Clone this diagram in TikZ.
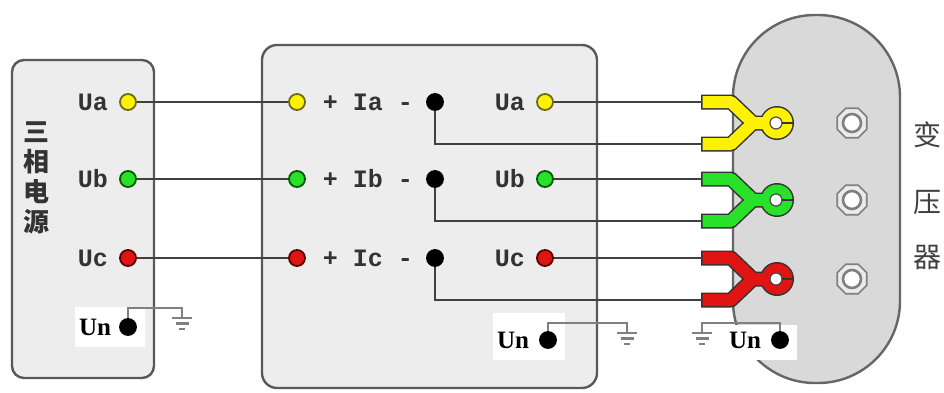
\documentclass[tikz,border=0pt]{standalone}
\usepackage{fontspec}
\newfontfamily\cjkfont{Noto Sans CJK SC}
\newfontfamily\lblfont{Liberation Mono}
\newfontfamily\unfont{Liberation Serif}
\usetikzlibrary{shapes.geometric}
\definecolor{pyellow}{RGB}{255,242,0}
\definecolor{pgreen}{RGB}{40,225,40}
\definecolor{pred}{RGB}{225,20,20}

\begin{document}
\begin{tikzpicture}[x=0.5pt, y=-0.5pt,
  panel/.style={draw=black!65, line width=1.2pt, fill=black!7},
  wire/.style={draw=black!75, line width=1pt},
  gwire/.style={draw=black!50, line width=1pt},
  term/.style={circle, inner sep=0pt, minimum size=8pt, line width=0.9pt},
  ya/.style={term, fill=pyellow, draw=olive!70!black},
  gb/.style={term, fill=pgreen, draw=green!35!black},
  rc/.style={term, fill=pred, draw=red!35!black},
  bk/.style={term, fill=black, draw=black},
  lbl/.style={font=\lblfont\bfseries\fontsize{12.5}{14}\selectfont, text=black!80, inner sep=0pt},
  unlbl/.style={font=\unfont\bfseries\fontsize{12.5}{14}\selectfont, text=black, inner sep=0pt},
  tlbl/.style={font=\cjkfont\fontsize{14}{15}\selectfont, text=black!75, inner sep=0pt},
  nut/.style={regular polygon, regular polygon sides=8, minimum size=16pt, inner sep=0pt, draw=black!50, fill=black!8, line width=0.8pt},
  gnd/.pic={\draw[black!50, line width=1.3pt] (-10,0) -- (10,0) (-6.5,5.5) -- (6.5,5.5) (-3,11) -- (3,11);}]
\useasboundingbox (0,0) rectangle (944,392);
\draw[panel, rounded corners=6pt] (12,60) rectangle (154,378);
\draw[panel, rounded corners=7.5pt] (262,45) rectangle (597,388);
\draw[draw=black!60, line width=1.2pt, fill=black!15, rounded corners=41pt] (733,15) rectangle (900,383);
\fill[white] (75,307) rectangle (145,347);
\fill[white] (493,313) rectangle (565,360);
\fill[white] (725,325) rectangle (797,360);

\node[font=\cjkfont\bfseries\fontsize{13}{15}\selectfont, text=black!80, align=center, inner sep=0pt] (src) at (37,178) {三\\相\\电\\源};
\node[ya] (sUa) at (128,102) {};
\node[gb] (sUb) at (128,179) {};
\node[rc] (sUc) at (128,258) {};
\node[bk] (sUn) at (128,327) {};
\node[lbl] (sUaL) at (93,102) {Ua};
\node[lbl] (sUbL) at (93,179) {Ub};
\node[lbl] (sUcL) at (93,258) {Uc};
\node[unlbl] (sUnL) at (95,327) {Un};
\coordinate (gs) at (182,318);

\node[ya] (mIa) at (297,102) {};
\node[gb] (mIb) at (297,179) {};
\node[rc] (mIc) at (297,258) {};
\node[lbl] (mIaL) at (368,102) {+ Ia -};
\node[lbl] (mIbL) at (368,179) {+ Ib -};
\node[lbl] (mIcL) at (368,258) {+ Ic -};
\node[bk] (mIan) at (435,102) {};
\node[bk] (mIbn) at (435,179) {};
\node[bk] (mIcn) at (435,258) {};
\node[ya] (mUa) at (545,102) {};
\node[gb] (mUb) at (545,179) {};
\node[rc] (mUc) at (545,258) {};
\node[bk] (mUn) at (548,340) {};
\node[lbl] (mUaL) at (510,102) {Ua};
\node[lbl] (mUbL) at (510,179) {Ub};
\node[lbl] (mUcL) at (510,258) {Uc};
\node[unlbl] (mUnL) at (513,340) {Un};
\coordinate (gm) at (627,333);

\node[bk] (tUn) at (780,340) {};
\node[unlbl] (tUnL) at (745,340) {Un};
\coordinate (gt) at (702,333);
\node[nut] (n1) at (852,123) {};
\node[nut] (n2) at (852,200) {};
\node[nut] (n3) at (852,279) {};
\foreach \n in {n1,n2,n3}
  \draw[black!50, line width=1.3pt, fill=white] (\n) circle[radius=9];
\node[tlbl] (t1) at (927,135) {变};
\node[tlbl] (t2) at (927,203) {压};
\node[tlbl] (t3) at (927,257) {器};

\foreach \c/\k/\y in {pyellow/ka/123, pgreen/kb/200, pred/kc/279} {
  \coordinate (\k1) at (702,\y-21);
  \coordinate (\k2) at (702,\y+21);
  \begin{scope}[shift={(777,\y)}]
    \draw[line width=7.5pt, black!80, line join=round] (-76,-21) -- (-46,-21) -- (-24,0) -- (-46,21) -- (-76,21) (-24,0) -- (0,0);
    \fill[black!80] (0,0) circle[radius=17];
    \draw[line width=6pt, \c, line join=round] (-74.5,-21) -- (-46,-21) -- (-24,0) -- (-46,21) -- (-74.5,21) (-24,0) -- (0,0);
    \fill[\c] (0,0) circle[radius=15.5];
    \draw[fill=white, draw=black!70, line width=0.6pt] (-1,0) circle[radius=6];
    \draw[black!80, line width=1.2pt] (5,0) -- (17,0);
  \end{scope}
}

\draw[wire] (sUa) -- (mIa);
\draw[wire] (sUb) -- (mIb);
\draw[wire] (sUc) -- (mIc);
\draw[wire] (mUa) -- (ka1);
\draw[wire] (mUb) -- (kb1);
\draw[wire] (mUc) -- (kc1);
\draw[wire] (mIan) |- (ka2);
\draw[wire] (mIbn) |- (kb2);
\draw[wire] (mIcn) |- (kc2);
\draw[gwire] (sUn) -- ++(0,-19) -| (gs);
\draw[gwire] (mUn) -- ++(0,-17) -| (gm);
\draw[gwire] (tUn) -- ++(0,-17) -| (gt);
\pic at (gs) {gnd};
\pic at (gm) {gnd};
\pic at (gt) {gnd};
\end{tikzpicture}
\end{document}
